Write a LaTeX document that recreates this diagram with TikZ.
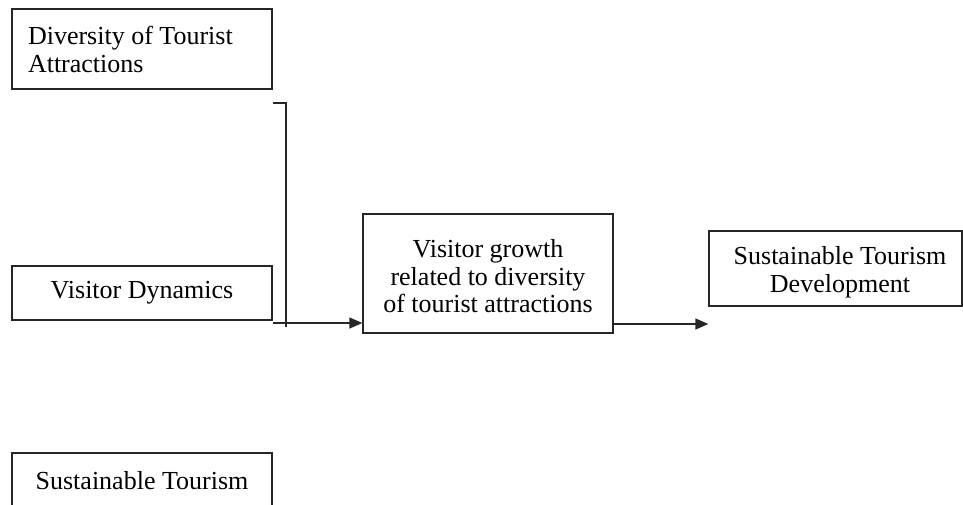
\documentclass[tikz,border=0pt]{standalone}
\usepackage{fontspec}
\setmainfont{Liberation Serif}
\usetikzlibrary{arrows.meta}
\begin{document}
\begin{tikzpicture}[x=1pt,y=-1pt,
  box/.style={draw=black!85,line width=1.3pt,rectangle,inner sep=0pt,
    font=\fontsize{26}{28}\selectfont,align=center},
  conn/.style={draw=black!85,line width=1.3pt},
  arr/.style={conn,-{Triangle[length=13pt,width=11pt]}}]
\useasboundingbox (0,0) rectangle (963,504);
\clip (0,0) rectangle (963,504);
\node[box,minimum width=260pt,minimum height=80pt,text width=228pt,align=flush left] (div) at (142,49) {Diversity of Tourist\\Attractions};
\node[box,minimum width=260pt,minimum height=54pt] (vd) at (142,293) {Visitor Dynamics};
\node[box,minimum width=250pt,minimum height=119pt,font=\fontsize{26}{27.5}\selectfont] (mid) at (488,273.5) {\rule{0pt}{24pt}Visitor growth\\related to diversity\\of tourist attractions};
\node[box,minimum width=253pt,minimum height=75pt] (sd) at (835.5,268.5) {\rule{0pt}{26pt}\hspace*{9pt}Sustainable Tourism\\\hspace*{9pt}Development};
\node[box,minimum width=260pt,minimum height=55pt] (st) at (142,480.5) {Sustainable Tourism};
% bracket
\coordinate (b0) at (div.east |- 0,103);
\coordinate (b1) at (286,103);
\coordinate (b2) at (286,327);
\draw[conn] (b0) -- (b1) -- (b2);
% arrows
\coordinate (a0) at (vd.east |- 0,323);
\draw[arr] (a0) -- (mid.west |- a0);
\coordinate (c0) at (mid.east |- 0,324);
\draw[arr] (c0) -- (sd.west |- c0);
\end{tikzpicture}
\end{document}
